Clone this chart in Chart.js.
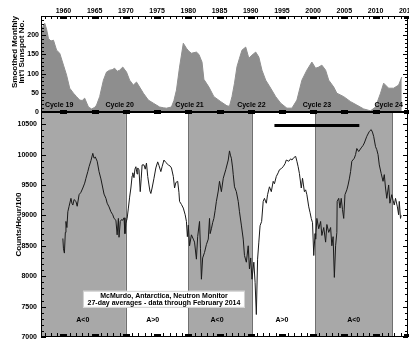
<!DOCTYPE html>
<html>
<head>
<meta charset="utf-8">
<title>McMurdo Neutron Monitor</title>
<script src="https://cdn.jsdelivr.net/npm/chart.js@4.4.1/dist/chart.umd.min.js"></script>
<style>
  body { margin: 0; background: #fff; }
  #wrap { position: relative; width: 409px; height: 340px; overflow: hidden; }
  canvas { position: absolute; left: 0; }
  #sunspots { top: 0; }
  #counts { top: 110px; }
</style>
</head>
<body>
<div id="wrap">
  <canvas id="counts" width="409" height="230"></canvas>
  <canvas id="sunspots" width="409" height="114"></canvas>
</div>
<script>
// Datos
const yearTicks = [1960, 1965, 1970, 1975, 1980, 1985, 1990, 1995, 2000, 2005, 2010, 2015];
const sunTicks = [0, 50, 100, 150, 200];
const countTicks = [7000, 7500, 8000, 8500, 9000, 9500, 10000, 10500];

const sunYears = [1956.4, 1956.7, 1957.0, 1957.3, 1957.6, 1958.0, 1958.4, 1958.9, 1959.4, 1960.0,
  1960.5, 1961.0, 1961.6, 1962.1, 1962.6, 1963.0, 1963.4, 1964.0, 1964.5, 1965.0,
  1965.3, 1965.8, 1966.4, 1966.9, 1967.4, 1967.8, 1968.2, 1968.6, 1969.0, 1969.5,
  1970.1, 1970.6, 1971.2, 1971.7, 1972.2, 1972.8, 1973.6, 1974.4, 1974.9, 1975.4,
  1976.0, 1976.5, 1977.3, 1977.7, 1978.1, 1978.6, 1979.2, 1979.7, 1980.1, 1980.5,
  1981.3, 1981.7, 1982.2, 1982.5, 1983.3, 1984.1, 1985.2, 1986.2, 1986.6, 1987.0,
  1987.4, 1987.8, 1988.2, 1988.6, 1989.2, 1989.7, 1990.2, 1990.8, 1991.3, 1991.8,
  1992.4, 1993.2, 1994.0, 1994.8, 1995.8, 1996.6, 1997.4, 1998.2, 1999.0, 1999.8,
  2000.4, 2000.9, 2001.4, 2002.0, 2002.5, 2003.3, 2003.8, 2004.9, 2006.0, 2007.0,
  2008.1, 2009.2, 2010.0, 2010.8, 2011.3, 2012.1, 2012.9, 2013.7, 2014.2];
const sunNumber = [205, 222, 231, 215, 191, 185, 187, 161, 153, 122,
  96, 62, 49, 40, 31, 30, 36, 13, 8, 12,
  18, 40, 83, 104, 109, 110, 114, 106, 109, 117,
  104, 83, 70, 78, 65, 49, 31, 23, 18, 13,
  11, 10, 13, 30, 57, 117, 179, 166, 158, 153,
  156, 150, 130, 85, 65, 40, 27, 16, 15, 40,
  75, 118, 140, 161, 169, 140, 148, 156, 143, 109,
  83, 62, 40, 23, 10, 10, 31, 83, 109, 130,
  114, 117, 122, 109, 83, 65, 49, 40, 27, 18,
  8, 3, 13, 49, 75, 62, 62, 70, 91];

const nmYears = [1959.9, 1960.0, 1960.15, 1960.3, 1960.4, 1960.55, 1960.7, 1960.9, 1961.2, 1961.35,
  1961.5, 1961.7, 1962.0, 1962.2, 1962.5, 1962.8, 1963.1, 1963.4, 1963.6, 1963.9,
  1964.1, 1964.4, 1964.7, 1964.9, 1965.1, 1965.4, 1965.7, 1966.0, 1966.3, 1966.5,
  1966.8, 1967.0, 1967.3, 1967.6, 1967.9, 1968.1, 1968.4, 1968.6, 1968.8, 1968.9,
  1969.1, 1969.3, 1969.5, 1969.7, 1969.85, 1970.0, 1970.2, 1970.4, 1970.6, 1970.8,
  1971.0, 1971.1, 1971.3, 1971.45, 1971.6, 1971.8, 1971.9, 1972.1, 1972.3, 1972.45,
  1972.6, 1972.9, 1973.1, 1973.3, 1973.5, 1973.7, 1973.85, 1974.0, 1974.2, 1974.5,
  1974.8, 1975.1, 1975.3, 1975.6, 1975.8, 1976.1, 1976.4, 1976.8, 1977.1, 1977.3,
  1977.6, 1977.8, 1978.0, 1978.3, 1978.5, 1978.6, 1978.9, 1979.2, 1979.5, 1979.7,
  1979.85, 1980.0, 1980.2, 1980.5, 1980.8, 1981.0, 1981.3, 1981.5, 1981.8, 1981.95,
  1982.1, 1982.3, 1982.6, 1982.9, 1983.2, 1983.4, 1983.5, 1983.7, 1983.9, 1984.1,
  1984.3, 1984.5, 1984.8, 1985.0, 1985.3, 1985.6, 1986.0, 1986.4, 1986.6, 1986.75,
  1986.9, 1987.1, 1987.2, 1987.4, 1987.7, 1988.0, 1988.2, 1988.5, 1988.8, 1989.0,
  1989.3, 1989.6, 1989.8, 1990.0, 1990.2, 1990.5, 1990.7, 1990.9, 1991.1, 1991.3,
  1991.5, 1991.75, 1992.0, 1992.2, 1992.5, 1992.7, 1993.0, 1993.3, 1993.6, 1993.8,
  1994.1, 1994.4, 1994.6, 1994.9, 1995.2, 1995.5, 1995.7, 1996.1, 1996.4, 1996.6,
  1996.9, 1997.2, 1997.4, 1997.6, 1997.8, 1998.1, 1998.3, 1998.45, 1998.6, 1998.8,
  1999.0, 1999.3, 1999.5, 1999.7, 1999.9, 2000.1, 2000.3, 2000.4, 2000.6, 2000.9,
  2001.2, 2001.4, 2001.7, 2002.0, 2002.2, 2002.5, 2002.8, 2003.0, 2003.2, 2003.4,
  2003.6, 2003.8, 2003.85, 2004.1, 2004.3, 2004.5, 2004.7, 2004.9, 2005.1, 2005.4,
  2005.6, 2005.8, 2006.0, 2006.2, 2006.6, 2006.8, 2007.0, 2007.3, 2007.7, 2008.0,
  2008.2, 2008.6, 2009.0, 2009.3, 2009.5, 2009.7, 2010.0, 2010.2, 2010.4, 2010.6,
  2010.9, 2011.2, 2011.4, 2011.6, 2011.8, 2012.1, 2012.3, 2012.6, 2012.8, 2013.0,
  2013.2, 2013.5, 2013.7, 2013.8, 2014.0, 2014.1];
const nmCounts = [8620, 8450, 8380, 8720, 8900, 8800, 9060, 9150, 9280, 9200,
  9170, 9260, 9230, 9150, 9340, 9380, 9450, 9530, 9610, 9720,
  9800, 9900, 10020, 9940, 9960, 9890, 9720, 9600, 9450, 9350,
  9280, 9200, 9140, 9060, 9010, 8950, 8920, 8680, 8950, 8640,
  8900, 8930, 8920, 8960, 8700, 8870, 8950, 9120, 9300, 9450,
  9650, 9700, 9620, 9760, 9800, 9680, 9780, 9750, 9390, 9600,
  9830, 9830, 9760, 9860, 9640, 9500, 9400, 9360, 9450, 9610,
  9780, 9880, 9820, 9720, 9800, 9910, 9870, 9830, 9810, 9780,
  9640, 9450, 9540, 9560, 9380, 9230, 9180, 9120, 9010, 8900,
  8650, 8840, 8500, 8680, 8610, 8560, 8280, 8650, 8900, 8450,
  7950, 8300, 8390, 8520, 8610, 8950, 8700, 8780, 8880, 8950,
  9080, 9230, 9400, 9560, 9390, 9610, 9750, 9910, 10060, 9990,
  9940, 9780, 9670, 9470, 9390, 9230, 9060, 8840, 8610, 8340,
  8230, 8500, 8120, 8300, 7950, 8230, 7900, 7370, 8280, 8560,
  8830, 8900, 9230, 9280, 9200, 9340, 9470, 9390, 9560, 9520,
  9640, 9700, 9750, 9770, 9800, 9850, 9910, 9890, 9930, 9910,
  9950, 9970, 9890, 9800, 9690, 9450, 9610, 9500, 9390, 9420,
  9340, 9140, 9050, 8950, 8880, 8340, 8700, 8610, 8950, 8780,
  8900, 8670, 8800, 8560, 8850, 8720, 8800, 8500, 8650, 7980,
  8500, 8720, 9230, 9280, 9120, 9280, 9100, 8950, 9340, 9420,
  9500, 9600, 9720, 9890, 9940, 10000, 10100, 10050, 10110, 10150,
  10190, 10300, 10380, 10410, 10370, 10300, 10130, 10080, 10000, 9830,
  9690, 9560, 9670, 9450, 9280, 9500, 9200, 9340, 9250, 9170,
  9280, 9140, 9010, 9230, 8950, 9000];

const cycleNames = ['Cycle 19', 'Cycle 20', 'Cycle 21', 'Cycle 22', 'Cycle 23', 'Cycle 24'];
const cycleYears = [1959.3, 1969.0, 1980.2, 1990.1, 2000.6, 2012.1];
const polarityNames = ['A<0', 'A>0', 'A<0', 'A>0', 'A<0'];
const polarityYears = [1963.1, 1974.3, 1984.6, 1995.0, 2006.5];
const negativePeriods = [[1956.4, 1970.0], [1980.0, 1990.2], [2000.35, 2012.7]];
const barYears = [1993.8, 2007.4];
const barLevels = [10480, 10480];
const boxLines = ['McMurdo, Antarctica, Neutron Monitor', '27-day averages - data through February 2014'];

const X_MIN = 1956.4, X_MAX = 2015.2;
const FONT = "'Liberation Sans', Arial, sans-serif";

Chart.defaults.font.family = FONT;
Chart.defaults.font.weight = 'bold';
Chart.defaults.font.size = 7;
Chart.defaults.color = '#000';

function fixedTicks(values) {
    return scale => { scale.ticks = values.map(v => ({ value: v })); };
}

// quita el relleno que Chart.js añade para que quepan las etiquetas
function noPadding(size) {
    return scale => {
        if (size.width) scale.width = size.width;
        if (size.height) scale.height = size.height;
        scale.paddingLeft = scale.paddingRight = scale.paddingTop = scale.paddingBottom = 0;
    };
}

// Marco, marcas de años y marcas del eje y (hacia dentro)
const panelFrame = {
    id: 'panelFrame',
    afterDatasetsDraw(chart, args, opts) {
        const { ctx, chartArea: a, scales: { x, y } } = chart;
        ctx.save();
        ctx.fillStyle = '#000';
        for (let yr = Math.ceil(x.min); yr <= x.max; yr++) {
            const px = Math.round(x.getPixelForValue(yr));
            if (yr % 5 === 0) {
                if (opts.topMajor) ctx.fillRect(px - 3, a.top, 7, opts.topMajor);
                if (opts.bottomMajor) ctx.fillRect(px - 3, a.bottom - opts.bottomMajor, 7, opts.bottomMajor);
            } else {
                if (opts.topMinor) ctx.fillRect(px, a.top, 1, 3);
                if (opts.bottomMinor) ctx.fillRect(px, a.bottom - 4, 1, 4);
            }
        }
        for (let v = y.min; v <= y.max; v += opts.minorStep) {
            const py = Math.round(y.getPixelForValue(v));
            const len = v % opts.majorStep === 0 ? 5 : 3;
            ctx.fillRect(a.left, py, len, 1);
            ctx.fillRect(a.right - len, py, len, 1);
        }
        ctx.strokeStyle = '#000';
        ctx.lineWidth = 1;
        ctx.strokeRect(a.left + 0.5, a.top + 0.5, a.right - a.left - 1, a.bottom - a.top - 1);
        ctx.restore();
    }
};

// Periodos A<0 sombreados
const polarityShading = {
    id: 'polarityShading',
    beforeDatasetsDraw(chart) {
        const { ctx, chartArea: a, scales: { x } } = chart;
        ctx.save();
        negativePeriods.forEach(([s, e]) => {
            const x0 = Math.max(a.left, x.getPixelForValue(s));
            const x1 = Math.min(a.right, x.getPixelForValue(e));
            ctx.fillStyle = '#a8a8a8';
            ctx.fillRect(x0, a.top, x1 - x0, a.bottom - a.top);
            ctx.strokeStyle = '#707070';
            ctx.lineWidth = 1;
            [x0, x1].forEach(px => {
                if (px <= a.left + 1 || px >= a.right - 1) return;
                ctx.beginPath();
                ctx.moveTo(Math.round(px) + 0.5, a.top);
                ctx.lineTo(Math.round(px) + 0.5, a.bottom);
                ctx.stroke();
            });
        });
        ctx.restore();
    }
};

const cycleLabels = {
    id: 'cycleLabels',
    afterDatasetsDraw(chart) {
        const { ctx, scales: { x, y } } = chart;
        ctx.save();
        ctx.fillStyle = '#000';
        ctx.textAlign = 'center';
        ctx.textBaseline = 'middle';
        ctx.font = 'bold 7px ' + FONT;
        cycleNames.forEach((name, i) => {
            ctx.fillText(name, x.getPixelForValue(cycleYears[i]), y.getPixelForValue(18));
        });
        // titulo del eje y en dos líneas
        ctx.font = 'bold 8px ' + FONT;
        ctx.translate(15, 52);
        ctx.rotate(-Math.PI / 2);
        ctx.fillText('Smoothed Monthly', 0, 0);
        ctx.fillText("Int'l Sunspot No.", 0, 7);
        ctx.restore();
    }
};

const countLabels = {
    id: 'countLabels',
    afterDatasetsDraw(chart) {
        const { ctx, scales: { x, y } } = chart;
        ctx.save();
        ctx.fillStyle = '#000';
        ctx.textAlign = 'center';
        ctx.textBaseline = 'middle';
        ctx.font = 'bold 7px ' + FONT;
        polarityNames.forEach((name, i) => {
            ctx.fillText(name, x.getPixelForValue(polarityYears[i]), y.getPixelForValue(7280));
        });
        // recuadro de texto
        const cx = x.getPixelForValue(1976.1);
        const cy = y.getPixelForValue(7620);
        ctx.fillStyle = '#fff';
        ctx.fillRect(cx - 81, cy - 8.5, 162, 17);
        ctx.strokeStyle = '#d0d0d0';
        ctx.strokeRect(cx - 81 + 0.5, cy - 8.5 + 0.5, 161, 16);
        ctx.fillStyle = '#000';
        ctx.fillText(boxLines[0], cx, cy - 3.7);
        ctx.fillText(boxLines[1], cx, cy + 3.7);
        ctx.restore();
    }
};

new Chart(document.getElementById('sunspots'), {
    type: 'line',
    data: {
        datasets: [{
            data: sunYears.map((t, i) => ({ x: t, y: sunNumber[i] })),
            fill: 'origin',
            backgroundColor: '#8e8e8e',
            borderColor: '#8e8e8e',
            borderWidth: 1,
            pointRadius: 0,
            tension: 0
        }]
    },
    options: {
        responsive: false,
        animation: false,
        layout: { autoPadding: false, padding: { left: 0, right: 1, top: 0, bottom: 2 } },
        plugins: {
            legend: { display: false },
            tooltip: { enabled: false },
            panelFrame: { topMajor: 3, topMinor: true, bottomMajor: 2, bottomMinor: false, minorStep: 10, majorStep: 50 }
        },
        scales: {
            x: {
                type: 'linear',
                position: 'top',
                min: X_MIN,
                max: X_MAX,
                afterBuildTicks: fixedTicks(yearTicks),
                afterFit: noPadding({ height: 16 }),
                grid: { display: false, drawTicks: false },
                border: { display: false },
                ticks: { padding: 1, autoSkip: false, maxRotation: 0, callback: v => String(v) }
            },
            y: {
                min: 0,
                max: 250,
                afterBuildTicks: fixedTicks(sunTicks),
                afterFit: noPadding({ width: 41 }),
                grid: { display: false, drawTicks: false },
                border: { display: false },
                ticks: { padding: 2, callback: v => String(v) }
            }
        }
    },
    plugins: [panelFrame, cycleLabels]
});

new Chart(document.getElementById('counts'), {
    type: 'line',
    data: {
        datasets: [{
            data: nmYears.map((t, i) => ({ x: t, y: nmCounts[i] })),
            borderColor: '#1a1a1a',
            borderWidth: 1,
            pointRadius: 0,
            tension: 0,
            fill: false
        }, {
            data: barYears.map((t, i) => ({ x: t, y: barLevels[i] })),
            borderColor: '#000',
            borderWidth: 3,
            pointRadius: 0,
            fill: false
        }]
    },
    options: {
        responsive: false,
        animation: false,
        layout: { autoPadding: false, padding: { left: 0, right: 1, top: 2, bottom: 3 } },
        plugins: {
            legend: { display: false },
            tooltip: { enabled: false },
            panelFrame: { topMajor: 2, topMinor: false, bottomMajor: 3, bottomMinor: true, minorStep: 100, majorStep: 500 }
        },
        scales: {
            x: {
                type: 'linear',
                display: false,
                min: X_MIN,
                max: X_MAX
            },
            y: {
                min: 7000,
                max: 10700,
                afterBuildTicks: fixedTicks(countTicks),
                afterFit: noPadding({ width: 41 }),
                grid: { display: false, drawTicks: false },
                border: { display: false },
                ticks: { padding: 4, callback: v => String(v) },
                title: {
                    display: true,
                    text: 'Counts/Hour/100',
                    font: { size: 8, weight: 'bold', lineHeight: 1 },
                    padding: { top: 14.5, bottom: 0 }
                }
            }
        }
    },
    plugins: [polarityShading, panelFrame, countLabels]
});
</script>
</body>
</html>
